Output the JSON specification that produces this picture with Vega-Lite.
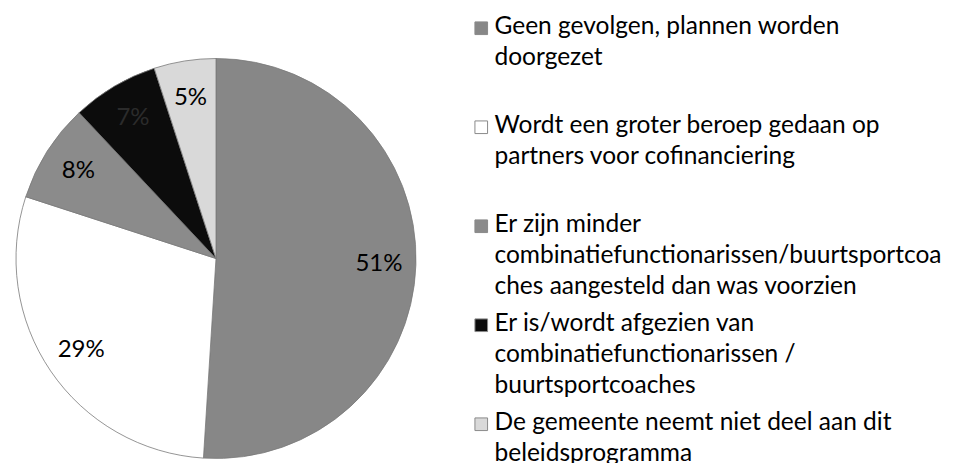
{
  "$schema": "https://vega.github.io/schema/vega-lite/v6.json",
  "width": 432,
  "height": 409,
  "padding": {"left": 0, "top": 54, "right": 521, "bottom": 0},
  "autosize": {"type": "none"},
  "background": "white",
  "config": {
    "view": {"stroke": null},
    "font": "Lato",
    "style": {"guide-label": {"lineHeight": 31}}
  },
  "data": {
    "values": [
      {"cat": "Geen gevolgen, plannen worden|doorgezet", "pct": 51, "ord": 1},
      {"cat": "Wordt een groter beroep gedaan op|partners voor cofinanciering", "pct": 29, "ord": 2},
      {"cat": "Er zijn minder|combinatiefunctionarissen/buurtsportcoa|ches aangesteld dan was voorzien", "pct": 8, "ord": 3},
      {"cat": "Er is/wordt afgezien van|combinatiefunctionarissen /|buurtsportcoaches", "pct": 7, "ord": 4},
      {"cat": "De gemeente neemt niet deel aan dit|beleidsprogramma", "pct": 5, "ord": 5}
    ]
  },
  "transform": [{"calculate": "datum.pct + '%'", "as": "lbl"}],
  "encoding": {
    "theta": {"field": "pct", "type": "quantitative", "stack": true},
    "order": {"field": "ord", "type": "quantitative"}
  },
  "layer": [
    {
      "mark": {"type": "arc", "outerRadius": 200, "stroke": "#7a7a7a", "strokeWidth": 0.8},
      "encoding": {
        "color": {
          "field": "cat",
          "type": "nominal",
          "sort": null,
          "scale": {
            "domain": [
              "Geen gevolgen, plannen worden|doorgezet",
              "Wordt een groter beroep gedaan op|partners voor cofinanciering",
              "Er zijn minder|combinatiefunctionarissen/buurtsportcoa|ches aangesteld dan was voorzien",
              "Er is/wordt afgezien van|combinatiefunctionarissen /|buurtsportcoaches",
              "De gemeente neemt niet deel aan dit|beleidsprogramma"
            ],
            "range": ["#878787", "#ffffff", "#8b8b8b", "#0c0c0c", "#d9d9d9"]
          },
          "legend": {
            "title": null,
            "orient": "none",
            "legendX": 469,
            "legendY": -38,
            "columns": 1,
            "gridAlign": "all",
            "symbolType": "square",
            "symbolSize": 160,
            "symbolStrokeColor": "#8a8a8a",
            "symbolStrokeWidth": 1,
            "labelExpr": "split(datum.label, '|')",
            "labelFont": "Lato",
            "labelFontSize": 24.5,
            "labelColor": "#000000",
            "labelLimit": 480,
            "labelOffset": 1,
            "labelBaseline": "top",
            "rowPadding": 12,
            "encode": {"labels": {"update": {"dy": {"value": -13}}}}
          }
        }
      }
    },
    {
      "mark": {"type": "text", "radius": 163, "fontSize": 24, "font": "Lato"},
      "encoding": {
        "text": {"field": "lbl", "type": "nominal"},
        "color": {"condition": {"test": "datum.pct === 7", "value": "#2b2b2b"}, "value": "#000000"}
      }
    }
  ]
}
